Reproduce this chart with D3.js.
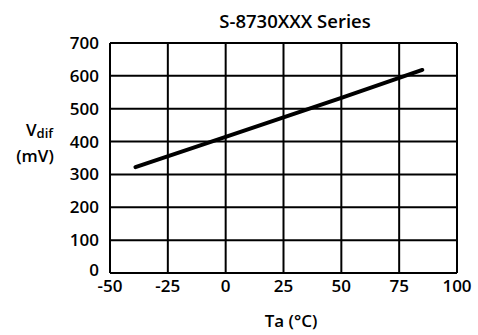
<!DOCTYPE html>
<html><head><meta charset="utf-8">
<script src="https://cdn.jsdelivr.net/npm/d3@7"></script>
<style>body{margin:0;background:#fff}svg{display:block}text{font-family:"Open Sans",sans-serif;font-weight:600;fill:#000}</style>
</head><body>
<svg id="c" width="478" height="335"></svg>
<script>
const temps = [-39, 0, 50, 85];
const vdif = [322, 414, 533, 618];
const xTicks = [-50, -25, 0, 25, 50, 75, 100];
const yTicks = [0, 100, 200, 300, 400, 500, 600, 700];
const title = "S-8730XXX Series";
const xTitle = "Ta (°C)";

const svg = d3.select("#c");
const x = d3.scaleLinear().domain([-50, 100]).range([110, 457]);
const y = d3.scaleLinear().domain([0, 700]).range([273, 43]);

const g = svg.append("g");
g.selectAll(".vg").data(xTicks).enter().append("line")
  .attr("x1", d => x(d)).attr("x2", d => x(d)).attr("y1", y(0)).attr("y2", y(700))
  .attr("stroke", "#000").attr("stroke-width", 2);
g.selectAll(".hg").data(yTicks).enter().append("line")
  .attr("x1", x(-50)).attr("x2", x(100)).attr("y1", d => y(d)).attr("y2", d => y(d))
  .attr("stroke", "#000").attr("stroke-width", 2);

g.selectAll(".yl").data(yTicks).enter().append("text")
  .attr("x", d => d === 0 ? 99 : 99).attr("y", d => d === 0 ? y(d) + 3 : y(d) + 6)
  .attr("text-anchor", "end").attr("font-size", 17).text(d => d);
g.selectAll(".xl").data(xTicks).enter().append("text")
  .attr("x", d => x(d)).attr("y", 292)
  .attr("text-anchor", "middle").attr("font-size", 17).text(d => d);

const line = d3.line().x((d, i) => x(temps[i])).y(d => y(d));
g.append("path").datum(vdif).attr("d", line).attr("fill", "none")
  .attr("stroke", "#000").attr("stroke-width", 4).attr("stroke-linecap", "round");

svg.append("text").attr("x", 295).attr("y", 28).attr("text-anchor", "middle")
  .attr("font-size", 18.5).text(title);
svg.append("text").attr("x", 291).attr("y", 327).attr("text-anchor", "middle")
  .attr("font-size", 17).text(xTitle);
const yt = svg.append("text").attr("x", 26).attr("y", 136).attr("font-size", 17);
yt.append("tspan").text("V");
yt.append("tspan").attr("font-size", 13).attr("dy", 2).text("dif");
svg.append("text").attr("x", 35).attr("y", 162).attr("text-anchor", "middle")
  .attr("font-size", 17).text("(mV)");
</script>
</body></html>
